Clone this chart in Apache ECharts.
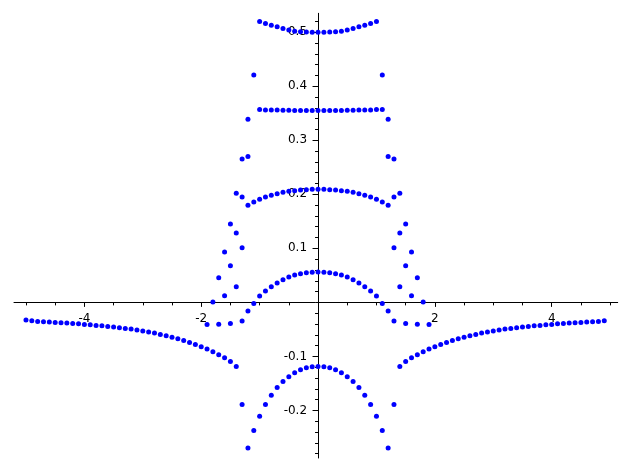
<!DOCTYPE html>
<html>
<head>
<meta charset="utf-8">
<script src="https://cdn.jsdelivr.net/npm/echarts@6/dist/echarts.min.js"></script>
<style>html,body{margin:0;padding:0;background:#fff}#c{width:630px;height:470px}</style>
</head>
<body>
<div id="c"></div>
<script>
// ---- data ----
const outerLeft = [
 [-5.0,-0.0328],[-4.9,-0.0340],[-4.8,-0.0352],[-4.7,-0.0359],[-4.6,-0.0365],[-4.5,-0.0371],
 [-4.4,-0.0377],[-4.3,-0.0383],[-4.2,-0.0390],[-4.1,-0.0396],[-4.0,-0.0408],[-3.9,-0.0414],
 [-3.8,-0.0427],[-3.7,-0.0433],[-3.6,-0.0445],[-3.5,-0.0457],[-3.4,-0.0470],[-3.3,-0.0482],
 [-3.2,-0.0494],[-3.1,-0.0513],[-3.0,-0.0531],[-2.9,-0.0550],[-2.8,-0.0568],[-2.7,-0.0593],
 [-2.6,-0.0618],[-2.5,-0.0643],[-2.4,-0.0673],[-2.3,-0.0704],[-2.2,-0.0741],[-2.1,-0.0778],
 [-2.0,-0.0822],[-1.9,-0.0865],[-1.8,-0.0914],[-1.7,-0.0970],[-1.6,-0.1025],[-1.5,-0.1093],
 [-1.4,-0.1186]
];
const outerRight = [
 [1.4,-0.1186],[1.5,-0.1093],[1.6,-0.1025],[1.7,-0.0970],[1.8,-0.0914],[1.9,-0.0865],
 [2.0,-0.0822],[2.1,-0.0778],[2.2,-0.0741],[2.3,-0.0704],[2.4,-0.0673],[2.5,-0.0643],
 [2.6,-0.0618],[2.7,-0.0593],[2.8,-0.0568],[2.9,-0.0550],[3.0,-0.0531],[3.1,-0.0513],
 [3.2,-0.0494],[3.3,-0.0482],[3.4,-0.0470],[3.5,-0.0457],[3.6,-0.0445],[3.7,-0.0433],
 [3.8,-0.0427],[3.9,-0.0414],[4.0,-0.0408],[4.1,-0.0396],[4.2,-0.0390],[4.3,-0.0383],
 [4.4,-0.0377],[4.5,-0.0371],[4.6,-0.0365],[4.7,-0.0359],[4.8,-0.0352],[4.9,-0.0340]
];
const topArc = [
 [-1.0,0.520],[-0.9,0.516],[-0.8,0.513],[-0.7,0.510],[-0.6,0.507],[-0.5,0.504],[-0.4,0.502],
 [-0.3,0.501],[-0.2,0.5005],[-0.1,0.500],[0.0,0.500],[0.1,0.500],[0.2,0.5005],[0.3,0.501],
 [0.4,0.502],[0.5,0.504],[0.6,0.507],[0.7,0.510],[0.8,0.513],[0.9,0.516],[1.0,0.520]
];
const band = [
 [-1.0,0.357],[-0.9,0.356],[-0.8,0.356],[-0.7,0.356],[-0.6,0.3555],[-0.5,0.3555],[-0.4,0.355],
 [-0.3,0.355],[-0.2,0.355],[-0.1,0.355],[0.0,0.355],[0.1,0.355],[0.2,0.355],[0.3,0.355],
 [0.4,0.355],[0.5,0.3555],[0.6,0.3555],[0.7,0.356],[0.8,0.356],[0.9,0.356],[1.0,0.357],[1.1,0.357]
];
const upperSides = [
 [-1.1,0.421],[1.1,0.421],[-1.2,0.339],[1.2,0.339],[-1.2,0.270],[1.2,0.270],[-1.3,0.2655],[1.3,0.2655]
];
const arcTwo = [
 [-1.4,0.2019],[-1.3,0.1950],[-1.2,0.1796],[-1.1,0.1857],[-1.0,0.1907],[-0.9,0.1950],[-0.8,0.1981],
 [-0.7,0.2012],[-0.6,0.2037],[-0.5,0.2056],[-0.4,0.2067],[-0.3,0.2080],[-0.2,0.2086],[-0.1,0.2092],
 [0.0,0.2092],[0.1,0.2092],[0.2,0.2086],[0.3,0.2080],[0.4,0.2067],[0.5,0.2056],[0.6,0.2037],
 [0.7,0.2012],[0.8,0.1981],[0.9,0.1950],[1.0,0.1907],[1.1,0.1857],[1.2,0.1796],[1.3,0.1950],[1.4,0.2019]
];
const fanUp = [
 [-1.5,0.1450],[-1.4,0.1283],[-1.6,0.0931],[-1.3,0.1011],[-1.5,0.0678],[-1.7,0.0456],
 [-1.4,0.0289],[-1.6,0.0122],[-1.8,0.0006],
 [1.5,0.1450],[1.4,0.1283],[1.6,0.0931],[1.3,0.1011],[1.5,0.0678],[1.7,0.0456],
 [1.4,0.0289],[1.6,0.0122],[1.8,0.0006]
];
const arcMid = [
 [-1.1,-0.0019],[-1.0,0.0117],[-0.9,0.0209],[-0.8,0.0289],[-0.7,0.0357],[-0.6,0.0419],[-0.5,0.0469],
 [-0.4,0.0506],[-0.3,0.0530],[-0.2,0.0548],[-0.1,0.0556],[0.0,0.0561],[0.1,0.0556],[0.2,0.0548],
 [0.3,0.0530],[0.4,0.0506],[0.5,0.0469],[0.6,0.0419],[0.7,0.0357],[0.8,0.0289],[0.9,0.0209],
 [1.0,0.0117],[1.1,-0.0019]
];
const fanDown = [
 [-1.2,-0.0161],[-1.3,-0.0346],[-1.5,-0.0393],[-1.7,-0.0407],[-1.9,-0.0411],
 [1.2,-0.0161],[1.3,-0.0346],[1.5,-0.0393],[1.7,-0.0407],[1.9,-0.0411]
];
const arcLow = [
 [-1.3,-0.1889],[-1.2,-0.2693],[-1.1,-0.2370],[-1.0,-0.2106],[-0.9,-0.1889],[-0.8,-0.1717],
 [-0.7,-0.1574],[-0.6,-0.1463],[-0.5,-0.1378],[-0.4,-0.1304],[-0.3,-0.1248],[-0.2,-0.1211],
 [-0.1,-0.1193],[0.0,-0.1185],[0.1,-0.1193],[0.2,-0.1211],[0.3,-0.1248],[0.4,-0.1304],
 [0.5,-0.1378],[0.6,-0.1463],[0.7,-0.1574],[0.8,-0.1717],[0.9,-0.1889],[1.0,-0.2106],
 [1.1,-0.2370],[1.2,-0.2693],[1.3,-0.1889]
];

const xLabels = [-4, -2, 2, 4];
const xMinorTicks = [-5,-4.5,-3.5,-3,-2.5,-1.5,-1,-0.5,0.5,1,1.5,2.5,3,3.5,4.5,5];
const yLabels = [-0.2, -0.1, 0.1, 0.2, 0.3, 0.4, 0.5];
const yMinorTicks = [-0.28,-0.26,-0.24,-0.22,-0.18,-0.16,-0.14,-0.12,-0.08,-0.06,-0.04,-0.02,
 0.02,0.04,0.06,0.08,0.12,0.14,0.16,0.18,0.22,0.24,0.26,0.28,0.32,0.34,0.36,0.38,
 0.42,0.44,0.46,0.48,0.52];

const X_MIN = -5.205, X_MAX = 5.13, Y_MIN = -0.288, Y_MAX = 0.535;

const W = 630, H = 470;
const G = {left: 14, right: 12.3, top: 13.3, bottom: 12};
const gridW = W - G.left - G.right, gridH = H - G.top - G.bottom;
// axes cross at the data origin: shift them from the grid edges to zero
const xAxisOffset = -gridH * (0 - Y_MIN) / (Y_MAX - Y_MIN);
const yAxisOffset = -gridW * (0 - X_MIN) / (X_MAX - X_MIN);

const chart = echarts.init(document.getElementById('c'), null, {renderer: 'canvas'});
const black = '#000000';
const font = {fontFamily: 'DejaVu Sans', fontSize: 12, color: black};

const groups = [outerLeft, outerRight, topArc, band, upperSides, arcTwo, fanUp, arcMid, fanDown, arcLow];

chart.setOption({
  animation: false,
  backgroundColor: '#ffffff',
  grid: Object.assign({containLabel: false, outerBoundsMode: 'none'}, G),
  xAxis: [
    {type: 'value', min: X_MIN, max: X_MAX, position: 'bottom', offset: xAxisOffset,
     axisLine: {show: true, onZero: false, lineStyle: {color: black, width: 1}},
     axisTick: {show: true, inside: false, length: 4.5, customValues: xLabels, lineStyle: {color: black, width: 1}},
     axisLabel: Object.assign({show: true, margin: 10, customValues: xLabels,
       formatter: v => String(v), showMinLabel: true, showMaxLabel: true}, font),
     splitLine: {show: false}},
    {type: 'value', min: X_MIN, max: X_MAX, position: 'bottom', offset: xAxisOffset,
     axisLine: {show: false, onZero: false},
     axisTick: {show: true, inside: false, length: 3, customValues: xMinorTicks, lineStyle: {color: black, width: 1}},
     axisLabel: {show: false},
     splitLine: {show: false}}
  ],
  yAxis: [
    {type: 'value', min: Y_MIN, max: Y_MAX, position: 'left', offset: yAxisOffset,
     axisLine: {show: true, onZero: false, lineStyle: {color: black, width: 1}},
     axisTick: {show: true, inside: false, length: 5.5, customValues: yLabels, lineStyle: {color: black, width: 1}},
     axisLabel: Object.assign({show: true, margin: 11, customValues: yLabels,
       formatter: v => String(v), showMinLabel: true, showMaxLabel: true}, font),
     splitLine: {show: false}},
    {type: 'value', min: Y_MIN, max: Y_MAX, position: 'left', offset: yAxisOffset,
     axisLine: {show: false, onZero: false},
     axisTick: {show: true, inside: false, length: 3, customValues: yMinorTicks, lineStyle: {color: black, width: 1}},
     axisLabel: {show: false},
     splitLine: {show: false}}
  ],
  series: groups.map(g => ({
    type: 'scatter', xAxisIndex: 0, yAxisIndex: 0,
    data: g, symbol: 'circle', symbolSize: 5,
    itemStyle: {color: '#0000ff', opacity: 1},
    emphasis: {disabled: true}, z: 5
  }))
});
</script>
</body>
</html>
